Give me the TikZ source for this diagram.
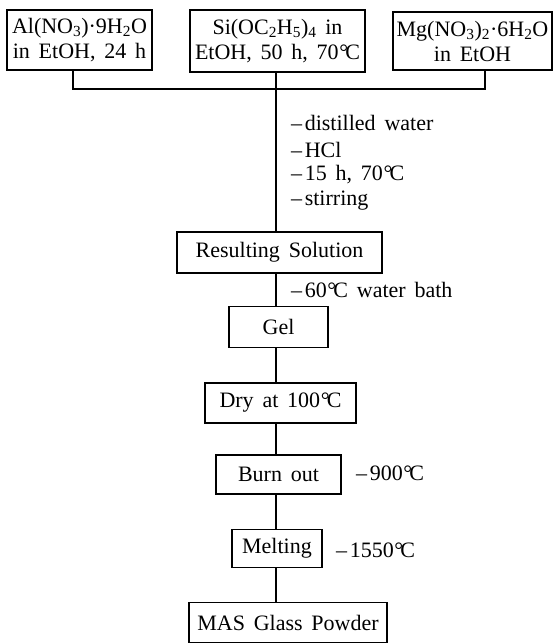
\documentclass[tikz,border=0pt]{standalone}
\usepackage{fontspec}
\setmainfont[WordSpace=1.6]{Liberation Serif}
\newcommand{\dC}{\kern0.03em°\kern-0.13em C}
\newcommand{\dsh}{–\kern0.12em}
\begin{document}
\begin{tikzpicture}[x=1pt,y=-1pt,
  every node/.style={font=\fontsize{22}{25}\selectfont},
  stepbox/.style={draw,line width=1.2pt,inner sep=0pt,align=center},
  lbl/.style={anchor=west,inner sep=0pt},
  conn/.style={line width=1.2pt}]
\useasboundingbox (0,0) rectangle (553,644);
\node[stepbox,minimum width=145,minimum height=60] (al) at (79.5,40) {Al(NO\textsubscript{3})·9H\textsubscript{2}O\\in EtOH, 24 h};
\node[stepbox,minimum width=175,minimum height=62] (si) at (277.5,41) {Si(OC\textsubscript{2}H\textsubscript{5})\textsubscript{4} in\\EtOH, 50 h, 70\dC};
\node[stepbox,minimum width=159,minimum height=58] (mg) at (472.5,41) {Mg(NO\textsubscript{3})\textsubscript{2}·6H\textsubscript{2}O\\in EtOH};
\node[stepbox,minimum width=205,minimum height=41] (res) at (279.5,252.5) {Resulting Solution};
\node[stepbox,minimum width=99,minimum height=41] (gel) at (278.5,327) {Gel};
\node[stepbox,minimum width=151,minimum height=40] (dry) at (280.5,403) {Dry at 100\dC};
\node[stepbox,minimum width=125,minimum height=39] (burn) at (278.5,474.5) {Burn out};
\node[stepbox,minimum width=90,minimum height=38] (melt) at (277,548.5) {Melting};
\node[stepbox,minimum width=198,minimum height=40] (mas) at (288,622.5) {MAS Glass Powder};
\coordinate (spine) at (276,0);
\coordinate (alx) at (73,0);
\coordinate (mgx) at (485,0);
\coordinate (join) at (276,89);
\draw[conn] (al.south -| alx) -- (join -| alx) -- (join -| mgx) -- (mg.south -| mgx);
\draw[conn] (si.south -| spine) -- (res.north -| spine);
\draw[conn] (res.south -| spine) -- (gel.north -| spine);
\draw[conn] (gel.south -| spine) -- (dry.north -| spine);
\draw[conn] (dry.south -| spine) -- (burn.north -| spine);
\draw[conn] (burn.south -| spine) -- (melt.north -| spine);
\draw[conn] (melt.south -| spine) -- (mas.north -| spine);
\node[lbl] (l1) at (291,123) {\dsh distilled water};
\node[lbl] (l2) at (291,150) {\dsh HCl};
\node[lbl] (l3) at (291,175) {\dsh 15 h, 70\dC};
\node[lbl] (l4) at (291,201) {\dsh stirring};
\node[lbl] (l5) at (291,290) {\dsh 60\dC\ water bath};
\node[lbl] (l6) at (356,473) {\dsh 900\dC};
\node[lbl] (l7) at (336,550) {\dsh 1550\dC};
\end{tikzpicture}
\end{document}
